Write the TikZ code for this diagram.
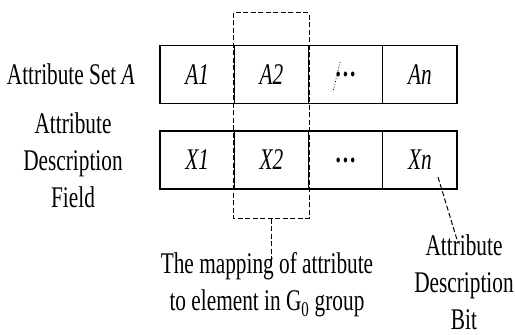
\documentclass[tikz,border=0pt]{standalone}
\usepackage{fontspec}
\setmainfont[FakeStretch=0.71]{Liberation Serif}
\usetikzlibrary{calc}
\begin{document}
\begin{tikzpicture}[x=1pt,y=1pt,
  cell/.style={draw,line width=1.2pt,minimum width=74.25pt,minimum height=58pt,inner sep=0pt,font=\fontsize{30}{37}\selectfont\itshape},
  lbl/.style={font=\fontsize{30}{37}\selectfont,align=center,inner sep=0pt},
  dsh/.style={line width=1pt,dash pattern=on 5pt off 2.5pt}]
\useasboundingbox (0,0) rectangle (515,335);
% top row
\node[cell] (a1) at (197.1,260.5) {A1};
\node[cell] (a2) at (271.4,260.5) {A2};
\node[cell] (a3) at (345.6,260.5) {\upshape\textbf{.\kern2pt.\kern2pt.}};
\node[cell] (an) at (419.9,260.5) {An};
% bottom row
\node[cell] (x1) at (197.1,175) {X1};
\node[cell] (x2) at (271.4,175) {X2};
\node[cell] (x3) at (345.6,175) {\upshape\textbf{.\kern2pt.\kern2pt.}};
\node[cell] (xn) at (419.9,175) {Xn};
% left labels
\node[lbl,anchor=east] (la) at (135,260.5) {Attribute Set \textit{A}};
\node[lbl] (lx) at (73,175) {Attribute\\Description\\Field};
% dashed group box
\coordinate (gtl) at ($(a2.north west)+(0,32)$);
\coordinate (gbr) at ($(x2.south east)+(0,-29)$);
\draw[dsh] (gtl) rectangle (gbr);
\coordinate (gbot) at ($(gtl |- gbr)!0.5!(gbr)$);
\coordinate (gend) at ($(gbot)+(0,-43)$);
\draw[dsh] (gbot) -- (gend);
\node[lbl] (map) at (267,50) {The mapping of attribute\\to element in G\textsubscript{0} group};
% attribute description bit
\node[lbl,anchor=north] (bit) at (464,101) {Attribute\\Description\\Bit};
\coordinate (xnd) at (438,158);
\coordinate (bitp) at (458,92);
\draw[dsh] (xnd) -- (bitp);
% dotted stroke in the ... cell
\coordinate (d1) at (340,273);
\coordinate (d2) at (333,243);
\draw[line width=0.8pt,dotted] (d1) -- (d2);
\end{tikzpicture}
\end{document}
